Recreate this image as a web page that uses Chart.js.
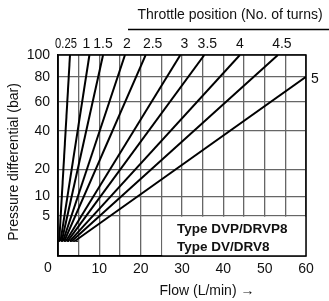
<!DOCTYPE html>
<html>
<head>
<meta charset="utf-8">
<script src="https://cdn.jsdelivr.net/npm/chart.js@4.4.1/dist/chart.umd.min.js"></script>
<style>
  body { margin: 0; background: #fff; }
  #chart { display: block; }
</style>
</head>
<body>
<canvas id="chart" width="329" height="301"></canvas>
<script>
// Throttle positions (No. of turns) and each line's start/end (flow L/min, pressure bar)
const turns = ["0.25", "1", "1.5", "2", "2.5", "3", "3.5", "4", "4.5", "5"];
const startFlow = [0.3, 0.6, 0.9, 1.2, 1.5, 1.9, 2.3, 2.8, 3.3, 4.0];
const startBar = [1, 1, 1, 1, 1, 1, 1, 1, 1, 1];
const endFlow = [2.9, 7.6, 10.9, 16.2, 21.2, 29.6, 35.4, 44.0, 53.2, 60];
const endBar = [100, 100, 100, 100, 100, 100, 100, 100, 100, 80];
const baseFlow = [0, 5];
const baseBar = [1, 1];

const xTicks = [0, 5, 10, 15, 20, 25, 30, 35, 40, 45, 50, 55, 60];
const yTicks = [5, 10, 20, 40, 60, 80, 100];

const FONT = "Liberation Sans, Arial, sans-serif";

// y axis is square-root scaled, so plot sqrt(bar)
const datasets = turns.map((t, i) => ({
  label: t,
  data: [
    { x: startFlow[i], y: Math.sqrt(startBar[i]) },
    { x: endFlow[i], y: Math.sqrt(endBar[i]) }
  ],
  borderColor: "#000",
  borderWidth: 2,
  pointRadius: 0,
  fill: false
}));
datasets.push({
  label: "base",
  data: baseFlow.map((f, i) => ({ x: f, y: Math.sqrt(baseBar[i]) })),
  borderColor: "#222",
  borderWidth: 1.5,
  borderDash: [2, 1],
  pointRadius: 0,
  fill: false
});

// small nudges so the top labels don't collide
const labelNudge = [-4, -3, 0, 2, 7, 4, 3, 0, 4];

const extras = {
  id: "extras",
  beforeDatasetsDraw(chart) {
    const ctx = chart.ctx;
    const xs = chart.scales.x, ys = chart.scales.y;
    // white box for type labels (covers the grid)
    const l = xs.getPixelForValue(25), t = ys.getPixelForValue(Math.sqrt(5));
    ctx.save();
    ctx.fillStyle = "#fff";
    ctx.fillRect(l + 1, t + 1, chart.chartArea.right - l - 1, chart.chartArea.bottom - t - 1);
    ctx.restore();
  },
  afterDraw(chart) {
    const ctx = chart.ctx;
    const a = chart.chartArea;
    const xs = chart.scales.x;
    ctx.save();
    // frame
    ctx.strokeStyle = "#000";
    ctx.lineWidth = 1.5;
    ctx.strokeRect(a.left, a.top, a.right - a.left, a.bottom - a.top);

    ctx.fillStyle = "#111";
    ctx.font = "14px " + FONT;
    ctx.textBaseline = "middle";

    // throttle labels at each line's top end
    ctx.textAlign = "center";
    turns.forEach((t, i) => {
      if (endBar[i] < 100) return;
      const px = xs.getPixelForValue(endFlow[i]) + (labelNudge[i] || 0);
      if (t.length > 3) {
        ctx.save();
        ctx.translate(px, 44);
        ctx.scale(0.8, 1);
        ctx.fillText(t, 0, 0);
        ctx.restore();
      } else {
        ctx.fillText(t, px, 44);
      }
    });
    const last = turns.length - 1;
    ctx.textAlign = "left";
    ctx.fillText(turns[last], a.right + 5, chart.scales.y.getPixelForValue(Math.sqrt(endBar[last])) + 2);

    // header
    ctx.textAlign = "center";
    ctx.fillText("Throttle position (No. of turns)", 230, 15);
    ctx.lineWidth = 1.5;
    ctx.beginPath();
    ctx.moveTo(128, 29.5);
    ctx.lineTo(329, 29.5);
    ctx.stroke();

    // corner zero
    ctx.fillText("0", 48, 268);

    // axis titles
    ctx.fillText("Flow (L/min) \u2192", 207, 291);
    ctx.save();
    ctx.translate(14, 162);
    ctx.rotate(-Math.PI / 2);
    ctx.fillText("Pressure differential (bar)", 0, 0);
    ctx.restore();

    // type labels
    ctx.textAlign = "left";
    ctx.font = "bold 13.5px " + FONT;
    ctx.fillText("Type DVP/DRVP8", 177, 229);
    ctx.fillText("Type DV/DRV8", 177, 247);
    ctx.restore();
  }
};

new Chart(document.getElementById("chart"), {
  type: "line",
  data: { datasets },
  options: {
    responsive: false,
    animation: false,
    layout: { padding: { left: 0, top: 55, right: 23, bottom: 0 } },
    plugins: { legend: { display: false }, tooltip: { enabled: false } },
    scales: {
      x: {
        type: "linear",
        min: 0,
        max: 60,
        afterBuildTicks: s => { s.ticks = xTicks.map(v => ({ value: v })); },
        afterFit: s => { s.height = 45; },
        grid: { color: "#666", lineWidth: 1.3, drawTicks: false },
        border: { color: "#000", width: 1.5 },
        ticks: {
          color: "#111",
          font: { family: FONT, size: 14 },
          padding: 5,
          maxRotation: 0,
          autoSkip: false,
          callback: v => (v % 10 === 0 && v !== 0 ? v : "")
        }
      },
      y: {
        type: "linear",
        min: 0.29,
        max: 10,
        afterBuildTicks: s => { s.ticks = yTicks.map(v => ({ value: Math.sqrt(v) })); },
        afterFit: s => { s.width = 58; },
        grid: { color: "#666", lineWidth: 1.3, drawTicks: false },
        border: { color: "#000", width: 1.5 },
        ticks: {
          color: "#111",
          font: { family: FONT, size: 14 },
          padding: 8,
          autoSkip: false,
          callback: v => Math.round(v * v)
        }
      }
    }
  },
  plugins: [extras]
});
</script>
</body>
</html>
